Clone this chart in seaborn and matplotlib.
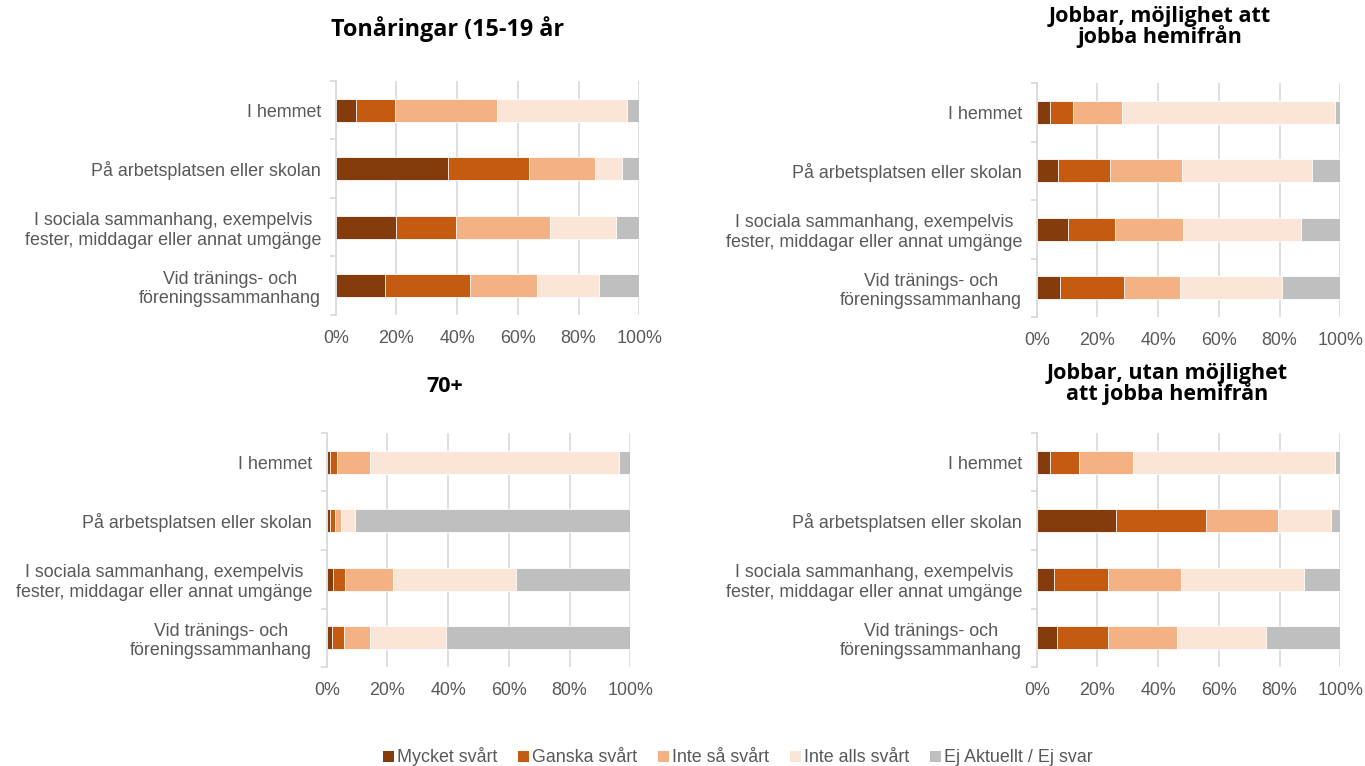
import matplotlib
matplotlib.use("Agg")
import matplotlib.pyplot as plt
import matplotlib.patches as mpatches
import seaborn as sns
import pandas as pd
import numpy as np

# ---------------- data ----------------
categories = [
    "I hemmet",
    "På arbetsplatsen eller skolan",
    "I sociala sammanhang, exempelvis\nfester, middagar eller annat umgänge",
    "Vid tränings- och\nföreningssammanhang",
]
series = ["Mycket svårt", "Ganska svårt", "Inte så svårt", "Inte alls svårt", "Ej Aktuellt / Ej svar"]
colors = ["#843C0C", "#C55A11", "#F4B183", "#FBE5D6", "#BFBFBF"]

titles = [
    "Tonåringar (15-19 år",
    "Jobbar, möjlighet att\njobba hemifrån",
    "70+",
    "Jobbar, utan möjlighet\natt jobba hemifrån",
]

# values per series (order of categories), in percent
teen_mycket = [6.7, 37.0, 20.0, 16.4]
teen_ganska = [12.8, 26.7, 19.6, 27.8]
teen_inteSa = [33.5, 21.7, 31.1, 22.1]
teen_inteAlls = [43.0, 8.8, 21.5, 20.5]
teen_ej = [4.0, 5.8, 7.8, 13.2]

home_mycket = [4.5, 7.1, 10.4, 7.8]
home_ganska = [7.5, 17.0, 15.4, 21.0]
home_inteSa = [16.1, 23.8, 22.3, 18.4]
home_inteAlls = [70.0, 42.9, 38.9, 33.5]
home_ej = [1.9, 9.2, 13.0, 19.3]

old_mycket = [1.2, 1.2, 2.2, 1.8]
old_ganska = [2.3, 1.4, 3.8, 3.9]
old_inteSa = [10.8, 2.1, 15.8, 8.6]
old_inteAlls = [82.1, 4.7, 40.5, 25.0]
old_ej = [3.6, 90.6, 37.7, 60.7]

nohome_mycket = [4.5, 26.1, 5.8, 6.8]
nohome_ganska = [9.4, 29.7, 17.6, 16.8]
nohome_inteSa = [17.9, 23.7, 24.1, 22.6]
nohome_inteAlls = [66.3, 17.4, 40.4, 29.3]
nohome_ej = [1.9, 3.1, 12.1, 24.5]

xticks = [0, 20, 40, 60, 80, 100]
xticklabels = ["0%", "20%", "40%", "60%", "80%", "100%"]

panels = [
    [teen_mycket, teen_ganska, teen_inteSa, teen_inteAlls, teen_ej],
    [home_mycket, home_ganska, home_inteSa, home_inteAlls, home_ej],
    [old_mycket, old_ganska, old_inteSa, old_inteAlls, old_ej],
    [nohome_mycket, nohome_ganska, nohome_inteSa, nohome_inteAlls, nohome_ej],
]

# ---------------- style ----------------
sns.set_theme(style="white")
plt.rcParams["font.family"] = ["Liberation Sans", "DejaVu Sans"]

W, H = 1365, 766
fig = plt.figure(figsize=(W / 100, H / 100), dpi=100)
fig.patch.set_facecolor("white")

# axes boxes in pixels: left, right, top, bottom
boxes = [
    (335.7, 639.3, 81, 315),
    (1036.7, 1340.3, 83, 317),
    (326.7, 630.3, 433, 667),
    (1036.7, 1340.3, 433, 667),
]
title_pos = [
    (448, 29),
    (1160, 27),
    (445, 386),
    (1167, 384),
]
title_sizes = [16.8, 15.5, 15.5, 15.5]

text_col = "#595959"
grid_col = "#D9D9D9"
fs = 12.85

for idx, (vals, box) in enumerate(zip(panels, boxes)):
    l, r, t, b = box
    ax = fig.add_axes([l / W, 1 - b / H, (r - l) / W, (b - t) / H])
    rows = []
    for s, v in zip(series, vals):
        for c, x in zip(categories, v):
            rows.append({"Category": c, "Series": s, "Value": x})
    df = pd.DataFrame(rows)
    df["Cum"] = df.groupby("Category", sort=False)["Value"].cumsum()
    for s, col in reversed(list(zip(series, colors))):
        sub = df[df["Series"] == s]
        sns.barplot(data=sub, x="Cum", y="Category", order=categories, color=col,
                    orient="h", width=0.4, ax=ax, edgecolor="white", linewidth=0.6,
                    saturation=1)
    ax.set_xlim(0, 100)
    ax.set_ylim(3.5, -0.5)
    ax.set_xlabel("")
    ax.set_ylabel("")
    ax.set_xticks(xticks)
    ax.set_xticklabels(xticklabels)
    ax.set_axisbelow(True)
    ax.grid(axis="x", color=grid_col, linewidth=1.2)
    ax.grid(axis="y", visible=False)
    for sp in ["top", "right", "bottom"]:
        ax.spines[sp].set_visible(False)
    ax.spines["left"].set_color(grid_col)
    ax.spines["left"].set_linewidth(1.2)
    ax.set_yticks(range(len(categories)))
    ax.set_yticklabels(categories, multialignment="center")
    ax.set_yticks([-0.5, 0.5, 1.5, 2.5, 3.5], minor=True)
    ax.tick_params(axis="y", which="major", length=0, pad=10.5, labelsize=fs, labelcolor=text_col)
    ax.tick_params(axis="y", which="minor", length=4, width=1.2, color=grid_col, left=True)
    ax.tick_params(axis="x", length=0, pad=11, labelsize=fs, labelcolor=text_col)
    for lbl in ax.get_yticklabels():
        lbl.set_linespacing(1.2)
    tx, ty = title_pos[idx]
    fig.text(tx / W, 1 - ty / H, titles[idx], ha="center", va="center",
             fontsize=title_sizes[idx], fontweight="bold", family=["Open Sans", "DejaVu Sans"],
             color="black", linespacing=0.9)

handles = [mpatches.Patch(facecolor=c, edgecolor="none", label=s) for s, c in zip(series, colors)]
leg = fig.legend(handles=handles, loc="center", bbox_to_anchor=(738 / W, 1 - 757 / H), ncol=5,
                 frameon=False, fontsize=fs, handlelength=0.6, handleheight=0.6,
                 handletextpad=0.2, columnspacing=1.15, labelcolor=text_col)

fig.savefig("out.png", dpi=100)
